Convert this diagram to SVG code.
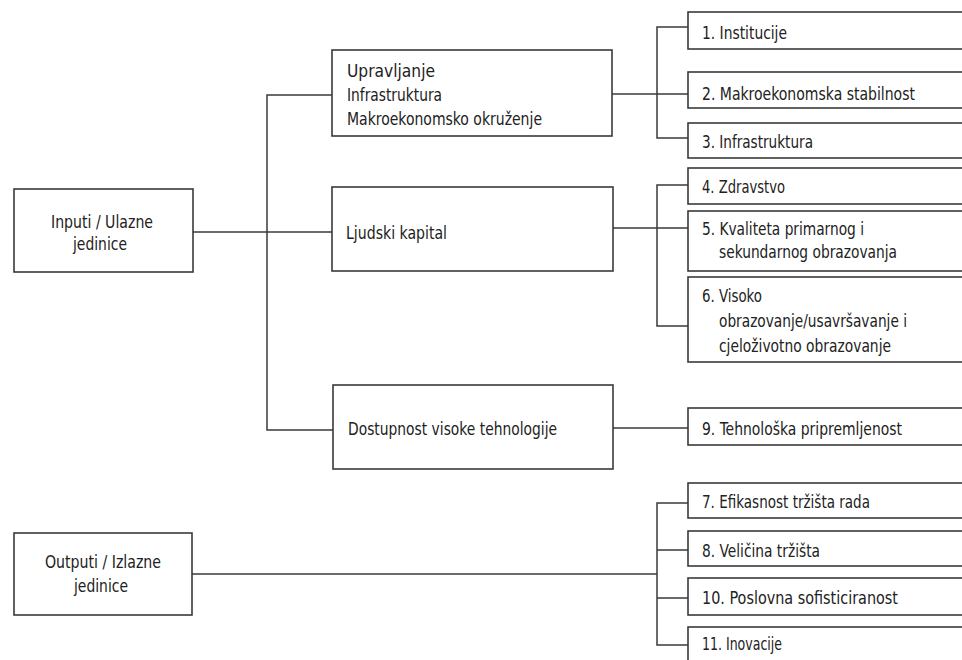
<svg xmlns="http://www.w3.org/2000/svg" width="962" height="660" viewBox="0 0 962 660">
<style>
.box{fill:#fff;stroke:#3a3a3a;stroke-width:1.6}
.t{font-family:"Liberation Sans Narrow","DejaVu Sans Condensed","Liberation Sans",sans-serif;font-size:18px;fill:#222}
.ln{fill:none;stroke:#3a3a3a;stroke-width:1.5}
</style>
<rect width="962" height="660" fill="#fff"/>
<g id="connectors">
<path class="ln" d="M193,232 H332"/>
<path class="ln" d="M332,95 H267 V430 H333"/>
<path class="ln" d="M612,94 H657"/>
<path class="ln" d="M688,27 H657 V138 H688 M657,94 H688"/>
<path class="ln" d="M613,228 H657"/>
<path class="ln" d="M688,185 H657 V326 H688 M657,228 H688"/>
<path class="ln" d="M613,428 H688"/>
<path class="ln" d="M192,574 H657"/>
<path class="ln" d="M688,503 H657 V645 H688 M657,550 H688 M657,598 H688"/>
</g>
<g id="inputi"><rect class="box" x="14" y="189" width="179" height="83"/><text class="t" x="51" y="228" textLength="102" lengthAdjust="spacingAndGlyphs">Inputi / Ulazne</text><text class="t" x="73" y="250" textLength="54" lengthAdjust="spacingAndGlyphs">jedinice</text></g>
<g id="outputi"><rect class="box" x="14" y="533" width="178" height="82"/><text class="t" x="45" y="568" textLength="116" lengthAdjust="spacingAndGlyphs">Outputi / Izlazne</text><text class="t" x="74" y="592" textLength="54" lengthAdjust="spacingAndGlyphs">jedinice</text></g>
<g id="upravljanje"><rect class="box" x="332" y="50" width="280" height="86"/><text class="t" x="347" y="77" textLength="88" lengthAdjust="spacingAndGlyphs">Upravljanje</text><text class="t" x="347" y="101" textLength="95" lengthAdjust="spacingAndGlyphs">Infrastruktura</text><text class="t" x="347" y="125" textLength="195" lengthAdjust="spacingAndGlyphs">Makroekonomsko okruženje</text></g>
<g id="ljudski"><rect class="box" x="332" y="187" width="281" height="84"/><text class="t" x="346" y="239" textLength="101" lengthAdjust="spacingAndGlyphs">Ljudski kapital</text></g>
<g id="dostupnost"><rect class="box" x="333" y="385" width="280" height="84"/><text class="t" x="348" y="435" textLength="209" lengthAdjust="spacingAndGlyphs">Dostupnost visoke tehnologije</text></g>
<g id="n1"><rect class="box" x="688" y="12" width="282" height="37"/><text class="t" x="702" y="39" textLength="85" lengthAdjust="spacingAndGlyphs">1. Institucije</text></g>
<g id="n2"><rect class="box" x="688" y="72" width="282" height="36"/><text class="t" x="702" y="100" textLength="213" lengthAdjust="spacingAndGlyphs">2. Makroekonomska stabilnost</text></g>
<g id="n3"><rect class="box" x="688" y="123" width="282" height="35"/><text class="t" x="702" y="148" textLength="111" lengthAdjust="spacingAndGlyphs">3. Infrastruktura</text></g>
<g id="n4"><rect class="box" x="688" y="168" width="282" height="36"/><text class="t" x="702" y="193" textLength="83" lengthAdjust="spacingAndGlyphs">4. Zdravstvo</text></g>
<g id="n5"><rect class="box" x="688" y="211" width="282" height="60"/><text class="t" x="702" y="235" textLength="162" lengthAdjust="spacingAndGlyphs">5. Kvaliteta primarnog i</text><text class="t" x="719" y="258" textLength="178" lengthAdjust="spacingAndGlyphs">sekundarnog obrazovanja</text></g>
<g id="n6"><rect class="box" x="688" y="277" width="282" height="85"/><text class="t" x="702" y="302" textLength="60" lengthAdjust="spacingAndGlyphs">6. Visoko</text><text class="t" x="719" y="327" textLength="188" lengthAdjust="spacingAndGlyphs">obrazovanje/usavršavanje i</text><text class="t" x="719" y="352" textLength="172" lengthAdjust="spacingAndGlyphs">cjeloživotno obrazovanje</text></g>
<g id="n9"><rect class="box" x="688" y="408" width="282" height="37"/><text class="t" x="702" y="435" textLength="200" lengthAdjust="spacingAndGlyphs">9. Tehnološka pripremljenost</text></g>
<g id="n7"><rect class="box" x="688" y="483" width="282" height="35"/><text class="t" x="702" y="508" textLength="168" lengthAdjust="spacingAndGlyphs">7. Efikasnost tržišta rada</text></g>
<g id="n8"><rect class="box" x="688" y="531" width="282" height="35"/><text class="t" x="702" y="557" textLength="118" lengthAdjust="spacingAndGlyphs">8. Veličina tržišta</text></g>
<g id="n10"><rect class="box" x="688" y="578" width="282" height="37"/><text class="t" x="702" y="604" textLength="196" lengthAdjust="spacingAndGlyphs">10. Poslovna sofisticiranost</text></g>
<g id="n11"><rect class="box" x="688" y="627" width="282" height="40"/><text class="t" x="702" y="650" textLength="80" lengthAdjust="spacingAndGlyphs">11. Inovacije</text></g>
</svg>
